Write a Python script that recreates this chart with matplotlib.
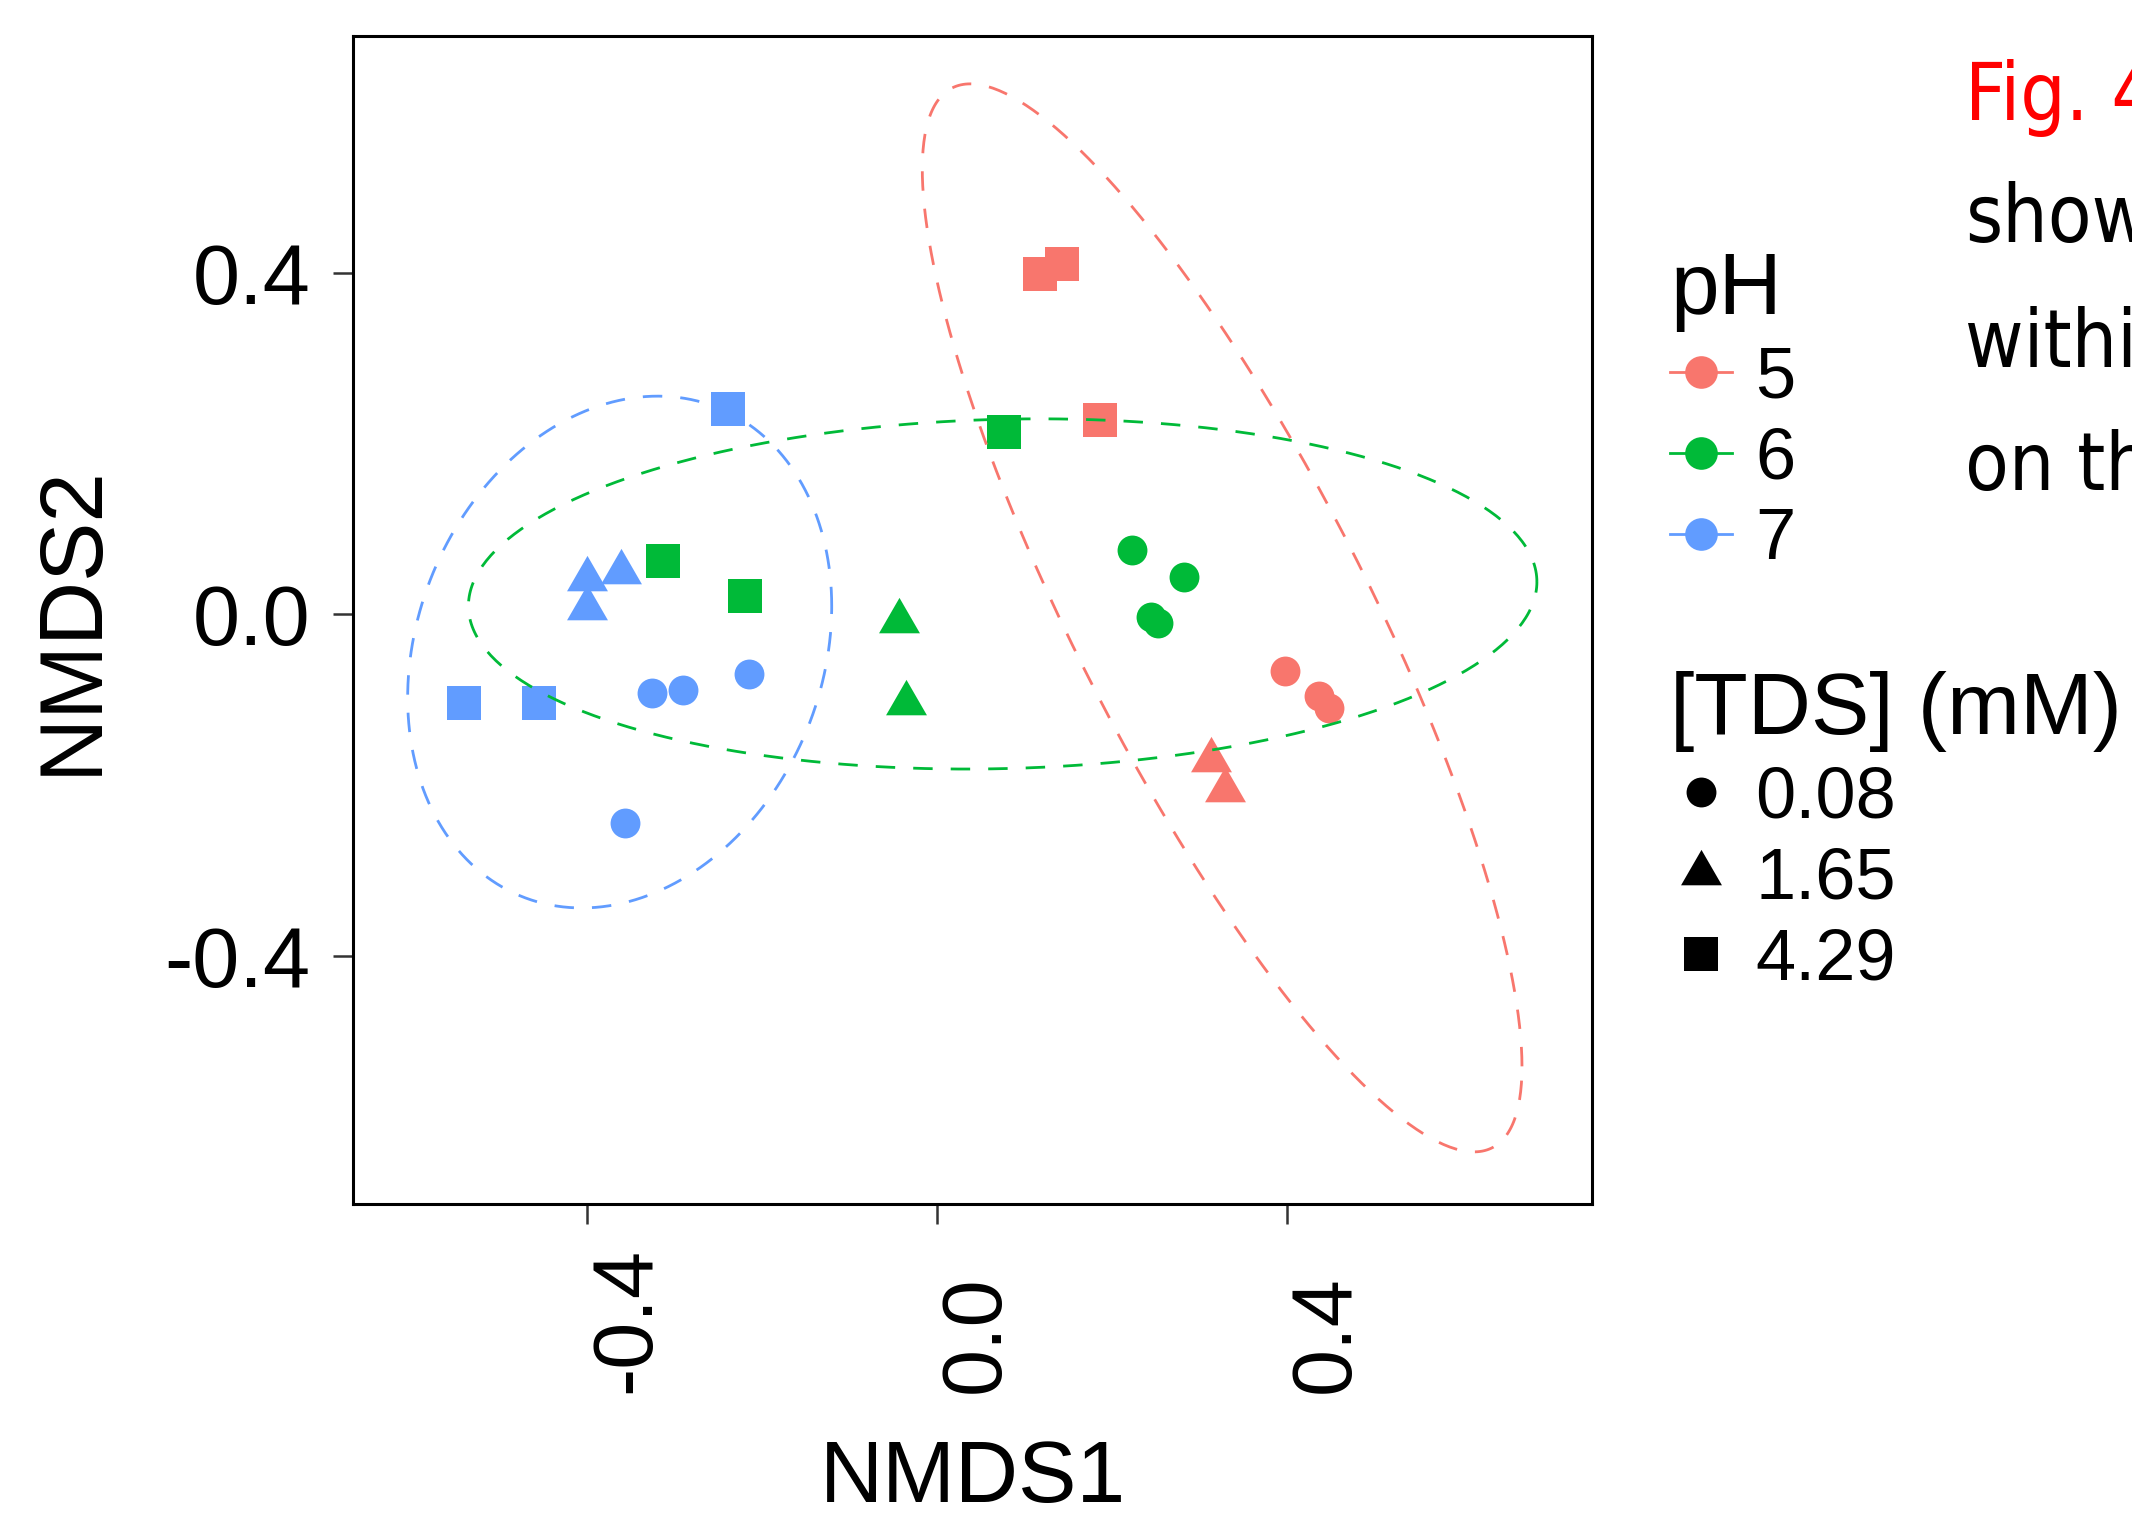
import numpy as np
import matplotlib
matplotlib.use("Agg")
import matplotlib.pyplot as plt
from matplotlib.lines import Line2D
from matplotlib import font_manager
from matplotlib.font_manager import FontProperties

# ---------------- data ----------------
ph_levels = ["5", "6", "7"]
ph_colors = ["#F8766D", "#00BA38", "#619CFF"]
tds_levels = ["0.08", "1.65", "4.29"]

# pH 5
ph5_circle_x = [0.398, 0.437, 0.448]
ph5_circle_y = [-0.066, -0.096, -0.109]
ph5_triangle_x = [0.313, 0.329]
ph5_triangle_y = [-0.170, -0.206]
ph5_square_x = [0.118, 0.143, 0.186]
ph5_square_y = [0.398, 0.410, 0.227]

# pH 6
ph6_circle_x = [0.223, 0.282, 0.245, 0.253]
ph6_circle_y = [0.075, 0.044, -0.003, -0.010]
ph6_triangle_x = [-0.043, -0.035]
ph6_triangle_y = [-0.008, -0.104]
ph6_square_x = [0.076, -0.314, -0.220]
ph6_square_y = [0.214, 0.063, 0.022]

# pH 7
ph7_circle_x = [-0.326, -0.291, -0.215, -0.357]
ph7_circle_y = [-0.092, -0.089, -0.070, -0.244]
ph7_triangle_x = [-0.400, -0.362, -0.400]
ph7_triangle_y = [0.041, 0.050, 0.008]
ph7_square_x = [-0.239, -0.541, -0.455]
ph7_square_y = [0.241, -0.104, -0.104]

# 95% ellipses per pH group (centre and covariance-like matrix entries)
ell_cx = [0.326, 0.075, -0.363]
ell_cy = [-0.004, 0.024, -0.044]
ell_sxx = [0.1176, 0.3733, 0.0588]
ell_syy = [0.3906, 0.0420, 0.0897]
ell_sxy = [-0.180, 0.0086, 0.013]

xtick_vals = [-0.4, 0.0, 0.4]
xtick_labels = ["-0.4", "0.0", "0.4"]
ytick_vals = [-0.4, 0.0, 0.4]
ytick_labels = ["-0.4", "0.0", "0.4"]

side_lines = ["Fig. 4", "show", "withi", "on th"]
side_colors = ["#FF0000", "black", "black", "black"]

# ---------------- style ----------------
plt.rcParams["font.family"] = ["Liberation Sans", "DejaVu Sans"]

# R pch 17 style triangle (equilateral, centred on centroid)
tri_marker = [(0.0, 1.5551), (1.3468, -0.7776), (-1.3468, -0.7776)]
shape_markers = ["o", tri_marker, "s"]
shape_sizes = [21.5, 34, 24.5]

W, H = 2132, 1519
fig = plt.figure(figsize=(W / 100, H / 100), dpi=100)
ax_l, ax_r, ax_t, ax_b = 353, 1592, 36, 1204
ax = fig.add_axes([ax_l / W, 1 - ax_b / H, (ax_r - ax_l) / W, (ax_b - ax_t) / H])

groups = [
    [(ph5_circle_x, ph5_circle_y), (ph5_triangle_x, ph5_triangle_y), (ph5_square_x, ph5_square_y)],
    [(ph6_circle_x, ph6_circle_y), (ph6_triangle_x, ph6_triangle_y), (ph6_square_x, ph6_square_y)],
    [(ph7_circle_x, ph7_circle_y), (ph7_triangle_x, ph7_triangle_y), (ph7_square_x, ph7_square_y)],
]

for gi, grp in enumerate(groups):
    for si, (xs, ys) in enumerate(grp):
        ax.plot(xs, ys, linestyle="none", marker=shape_markers[si],
                markersize=shape_sizes[si], color=ph_colors[gi],
                markeredgewidth=0, zorder=3)

t = np.linspace(0, 2 * np.pi, 400)
for gi in range(3):
    M = np.array([[ell_sxx[gi], ell_sxy[gi]], [ell_sxy[gi], ell_syy[gi]]])
    L = np.linalg.cholesky(M)
    pts = L @ np.vstack([np.cos(t), np.sin(t)])
    ax.plot(pts[0] + ell_cx[gi], pts[1] + ell_cy[gi], color=ph_colors[gi],
            lw=2.0, linestyle=(0, (7, 6.5)), zorder=4)

ax.set_xlim(-0.668, 0.749)
ax.set_ylim(-0.690, 0.677)

ax.set_xticks(xtick_vals)
ax.set_yticks(ytick_vals)
ax.set_xticklabels(xtick_labels, rotation=90, ha="left", va="bottom")
ax.set_yticklabels(ytick_labels)
ax.tick_params(axis="both", length=14.4, width=1.8, color="#333333",
               labelsize=61, labelcolor="black")
ax.tick_params(axis="y", pad=16)
ax.tick_params(axis="x", pad=122)

for sp in ax.spines.values():
    sp.set_linewidth(2.2)
    sp.set_color("black")

ax.set_xlabel("NMDS1", fontsize=63, labelpad=33)
ax.set_ylabel("NMDS2", fontsize=64, labelpad=36)

# ---------------- legends ----------------
h1 = [Line2D([0], [0], color=c, lw=2, marker="o", markersize=23.5,
             markeredgewidth=0) for c in ph_colors]
leg1 = fig.legend(h1, ph_levels, title="pH", loc="upper left",
                  bbox_to_anchor=(1670 / W, 1 - 251 / H), frameon=False,
                  fontsize=52, title_fontsize=63, handlelength=0.86,
                  handletextpad=0.32, labelspacing=0.19, borderpad=0,
                  borderaxespad=0, alignment="left")

h2 = [Line2D([0], [0], color="black", linestyle="none", marker=shape_markers[i],
             markersize=shape_sizes[i], markeredgewidth=0) for i in range(3)]
leg2 = fig.legend(h2, tds_levels, title="[TDS] (mM)", loc="upper left",
                  bbox_to_anchor=(1670 / W, 1 - 671 / H), frameon=False,
                  fontsize=52, title_fontsize=63, handlelength=0.86,
                  handletextpad=0.32, labelspacing=0.19, borderpad=0,
                  borderaxespad=0, alignment="left")

# ---------------- side text (cut at image edge) ----------------
side_prop = None
cands = []
for f in font_manager.fontManager.ttflist:
    nm = f.name.lower()
    st = str(f.stretch).lower()
    if ("condensed" in nm or "narrow" in nm or st in ("condensed", "semi-condensed")) \
            and str(f.weight) in ("400", "normal", "regular", "book") \
            and str(f.style) == "normal" and "mono" not in nm:
        cands.append(f)
if cands:
    side_prop = FontProperties(fname=cands[0].fname)
else:
    side_prop = FontProperties(family="Roboto")

# size so that cap height ~67 px and "withi" width ~170 px
renderer = fig.canvas.get_renderer()
probe = fig.text(0, 0, "withi", fontproperties=side_prop, fontsize=100)
wpx = probe.get_window_extent(renderer).width
probe.remove()
side_size = min(70.0, 100.0 * 172.0 / wpx)

side_baselines = [120, 242, 367, 490]
for txt, col, yb in zip(side_lines, side_colors, side_baselines):
    tx = fig.text(1965 / W, 1 - yb / H, txt, color=col,
                  fontproperties=side_prop, va="baseline", ha="left")
    tx.set_fontsize(side_size)

fig.savefig("out.png", dpi=100)
